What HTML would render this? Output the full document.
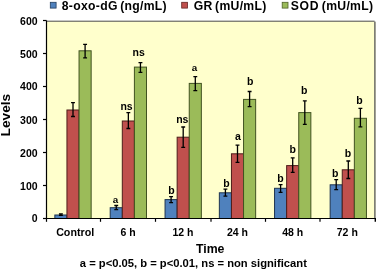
<!DOCTYPE html><html><head><meta charset="utf-8"><style>html,body{margin:0;padding:0;background:#fff;width:376px;height:269px;overflow:hidden}svg{display:block;will-change:transform}text{font-family:"Liberation Sans",sans-serif;font-weight:bold;fill:#000}</style></head><body>
<svg width="376" height="269" viewBox="0 0 376 269">
<rect x="47.0" y="21.5" width="327.0" height="196.5" fill="#FFFFCC"/>
<path d="M46.5 21.2H374.6" stroke="#4A4A44" stroke-width="1.0" fill="none"/>
<rect x="374.0" y="21.4" width="1" height="197.1" fill="#7E7E74"/>
<rect x="375.0" y="21.6" width="1" height="196.9" fill="#A2A296"/>
<rect x="54.85" y="215.00" width="12.10" height="3.50" fill="#4F81BD" stroke="#1E3450" stroke-width="1"/>
<rect x="66.95" y="110.00" width="12.10" height="108.50" fill="#C0504D" stroke="#4E1D1B" stroke-width="1"/>
<rect x="79.05" y="50.80" width="12.10" height="167.70" fill="#9BBB59" stroke="#415221" stroke-width="1"/>
<rect x="110.20" y="207.70" width="12.10" height="10.80" fill="#4F81BD" stroke="#1E3450" stroke-width="1"/>
<rect x="122.30" y="121.00" width="12.10" height="97.50" fill="#C0504D" stroke="#4E1D1B" stroke-width="1"/>
<rect x="134.40" y="67.10" width="12.10" height="151.40" fill="#9BBB59" stroke="#415221" stroke-width="1"/>
<rect x="165.05" y="199.60" width="12.10" height="18.90" fill="#4F81BD" stroke="#1E3450" stroke-width="1"/>
<rect x="177.15" y="137.20" width="12.10" height="81.30" fill="#C0504D" stroke="#4E1D1B" stroke-width="1"/>
<rect x="189.25" y="83.40" width="12.10" height="135.10" fill="#9BBB59" stroke="#415221" stroke-width="1"/>
<rect x="219.35" y="192.80" width="12.10" height="25.70" fill="#4F81BD" stroke="#1E3450" stroke-width="1"/>
<rect x="231.45" y="153.80" width="12.10" height="64.70" fill="#C0504D" stroke="#4E1D1B" stroke-width="1"/>
<rect x="243.55" y="99.40" width="12.10" height="119.10" fill="#9BBB59" stroke="#415221" stroke-width="1"/>
<rect x="274.55" y="188.30" width="12.10" height="30.20" fill="#4F81BD" stroke="#1E3450" stroke-width="1"/>
<rect x="286.65" y="165.60" width="12.10" height="52.90" fill="#C0504D" stroke="#4E1D1B" stroke-width="1"/>
<rect x="298.75" y="112.60" width="12.10" height="105.90" fill="#9BBB59" stroke="#415221" stroke-width="1"/>
<rect x="330.15" y="184.80" width="12.10" height="33.70" fill="#4F81BD" stroke="#1E3450" stroke-width="1"/>
<rect x="342.25" y="169.80" width="12.10" height="48.70" fill="#C0504D" stroke="#4E1D1B" stroke-width="1"/>
<rect x="354.35" y="118.30" width="12.10" height="100.20" fill="#9BBB59" stroke="#415221" stroke-width="1"/>
<path d="M60.90 213.90V215.40M58.95 213.90H62.85M58.95 215.40H62.85" stroke="#000" stroke-width="1.3" fill="none"/>
<path d="M73.00 102.60V116.50M71.05 102.60H74.95M71.05 116.50H74.95" stroke="#000" stroke-width="1.3" fill="none"/>
<path d="M85.10 44.40V57.90M83.15 44.40H87.05M83.15 57.90H87.05" stroke="#000" stroke-width="1.3" fill="none"/>
<path d="M116.25 205.50V209.60M114.30 205.50H118.20M114.30 209.60H118.20" stroke="#000" stroke-width="1.3" fill="none"/>
<path d="M128.35 112.60V128.50M126.40 112.60H130.30M126.40 128.50H130.30" stroke="#000" stroke-width="1.3" fill="none"/>
<path d="M140.45 62.70V72.30M138.50 62.70H142.40M138.50 72.30H142.40" stroke="#000" stroke-width="1.3" fill="none"/>
<path d="M171.10 196.60V202.60M169.15 196.60H173.05M169.15 202.60H173.05" stroke="#000" stroke-width="1.3" fill="none"/>
<path d="M183.20 127.00V147.30M181.25 127.00H185.15M181.25 147.30H185.15" stroke="#000" stroke-width="1.3" fill="none"/>
<path d="M195.30 76.70V90.60M193.35 76.70H197.25M193.35 90.60H197.25" stroke="#000" stroke-width="1.3" fill="none"/>
<path d="M225.40 189.20V196.10M223.45 189.20H227.35M223.45 196.10H227.35" stroke="#000" stroke-width="1.3" fill="none"/>
<path d="M237.50 145.20V162.30M235.55 145.20H239.45M235.55 162.30H239.45" stroke="#000" stroke-width="1.3" fill="none"/>
<path d="M249.60 91.50V106.60M247.65 91.50H251.55M247.65 106.60H251.55" stroke="#000" stroke-width="1.3" fill="none"/>
<path d="M280.60 184.60V192.40M278.65 184.60H282.55M278.65 192.40H282.55" stroke="#000" stroke-width="1.3" fill="none"/>
<path d="M292.70 157.80V172.30M290.75 157.80H294.65M290.75 172.30H294.65" stroke="#000" stroke-width="1.3" fill="none"/>
<path d="M304.80 100.90V124.30M302.85 100.90H306.75M302.85 124.30H306.75" stroke="#000" stroke-width="1.3" fill="none"/>
<path d="M336.20 179.60V189.60M334.25 179.60H338.15M334.25 189.60H338.15" stroke="#000" stroke-width="1.3" fill="none"/>
<path d="M348.30 161.00V178.50M346.35 161.00H350.25M346.35 178.50H350.25" stroke="#000" stroke-width="1.3" fill="none"/>
<path d="M360.40 108.30V126.80M358.45 108.30H362.35M358.45 126.80H362.35" stroke="#000" stroke-width="1.3" fill="none"/>
<path d="M46.5 20.5V221.8" fill="none" stroke="#000" stroke-width="1.2"/>
<path d="M46.5 218.5H376" fill="none" stroke="#000" stroke-width="1.2"/>
<path d="M43 218.50H46.5" stroke="#000" stroke-width="1.2"/>
<text x="37.6" y="221.85" font-size="10.5" text-anchor="end">0</text>
<path d="M43 185.50H46.5" stroke="#000" stroke-width="1.2"/>
<text x="37.6" y="189.55" font-size="10.5" text-anchor="end">100</text>
<path d="M43 152.50H46.5" stroke="#000" stroke-width="1.2"/>
<text x="37.6" y="156.55" font-size="10.5" text-anchor="end">200</text>
<path d="M43 119.50H46.5" stroke="#000" stroke-width="1.2"/>
<text x="37.6" y="123.55" font-size="10.5" text-anchor="end">300</text>
<path d="M43 86.50H46.5" stroke="#000" stroke-width="1.2"/>
<text x="37.6" y="89.85" font-size="10.5" text-anchor="end">400</text>
<path d="M43 53.50H46.5" stroke="#000" stroke-width="1.2"/>
<text x="37.6" y="57.55" font-size="10.5" text-anchor="end">500</text>
<path d="M43 20.50H46.5" stroke="#000" stroke-width="1.2"/>
<text x="37.6" y="24.85" font-size="10.5" text-anchor="end">600</text>
<path d="M100.50 218.5V221.8" stroke="#000" stroke-width="1.2"/>
<path d="M155.50 218.5V221.8" stroke="#000" stroke-width="1.2"/>
<path d="M211.00 218.5V221.8" stroke="#000" stroke-width="1.2"/>
<path d="M265.50 218.5V221.8" stroke="#000" stroke-width="1.2"/>
<path d="M320.00 218.5V221.8" stroke="#000" stroke-width="1.2"/>
<path d="M375.30 218.5V221.8" stroke="#000" stroke-width="1.4"/>
<text x="75.15" y="235.7" font-size="10.7" text-anchor="middle">Control</text>
<text x="128.05" y="235.7" font-size="10.5" text-anchor="middle">6 h</text>
<text x="183.00" y="235.7" font-size="10.5" text-anchor="middle">12 h</text>
<text x="237.50" y="235.7" font-size="10.5" text-anchor="middle">24 h</text>
<text x="292.70" y="235.7" font-size="10.5" text-anchor="middle">48 h</text>
<text x="347.30" y="235.7" font-size="10.5" text-anchor="middle">72 h</text>
<text x="115.6" y="203.20" font-size="9.8" text-anchor="middle">a</text>
<text x="126.6" y="109.80" font-size="10.5" text-anchor="middle">ns</text>
<text x="138.75" y="56.40" font-size="10.5" text-anchor="middle">ns</text>
<text x="171.35" y="193.90" font-size="10.5" text-anchor="middle">b</text>
<text x="182.3" y="122.90" font-size="10.5" text-anchor="middle">ns</text>
<text x="194.6" y="71.10" font-size="9.8" text-anchor="middle">a</text>
<text x="226.45" y="186.90" font-size="10.5" text-anchor="middle">b</text>
<text x="237.9" y="140.10" font-size="10.5" text-anchor="middle">a</text>
<text x="250.2" y="85.40" font-size="10.5" text-anchor="middle">b</text>
<text x="280.55" y="181.90" font-size="10.5" text-anchor="middle">b</text>
<text x="292.8" y="153.00" font-size="10.5" text-anchor="middle">b</text>
<text x="304.1" y="94.30" font-size="10.5" text-anchor="middle">b</text>
<text x="335.25" y="176.90" font-size="10.5" text-anchor="middle">b</text>
<text x="348.05" y="156.90" font-size="10.5" text-anchor="middle">b</text>
<text x="359.35" y="103.90" font-size="10.5" text-anchor="middle">b</text>
<rect x="50.3" y="2.3" width="5.8" height="5.8" fill="#4F81BD" stroke="#243F60" stroke-width="0.8"/>
<text x="61.8" y="9.5" font-size="12.2" letter-spacing="0.3" word-spacing="-1.2">8-oxo-dG (ng/mL)</text>
<rect x="181.7" y="2.3" width="5.8" height="5.8" fill="#C0504D" stroke="#632523" stroke-width="0.8"/>
<text x="193.7" y="9.5" font-size="12.2" letter-spacing="0.3" word-spacing="-1.2">GR (mU/mL)</text>
<rect x="282.2" y="2.3" width="5.8" height="5.8" fill="#9BBB59" stroke="#4F6228" stroke-width="0.8"/>
<text x="290.65" y="9.5" font-size="12.2" letter-spacing="0.3" word-spacing="-1.2"><tspan letter-spacing="0.75">SOD</tspan> (mU/mL)</text>
<text x="210.2" y="253.2" font-size="12.3" text-anchor="middle">Time</text>
<text transform="translate(10 115.07) rotate(-90)" x="0" y="0" font-size="13.7" text-anchor="middle">Levels</text>
<text x="79.8" y="266.7" font-size="11" textLength="227.1" lengthAdjust="spacingAndGlyphs">a = p&lt;0.05, b = p&lt;0.01, ns = non significant</text>
</svg></body></html>
